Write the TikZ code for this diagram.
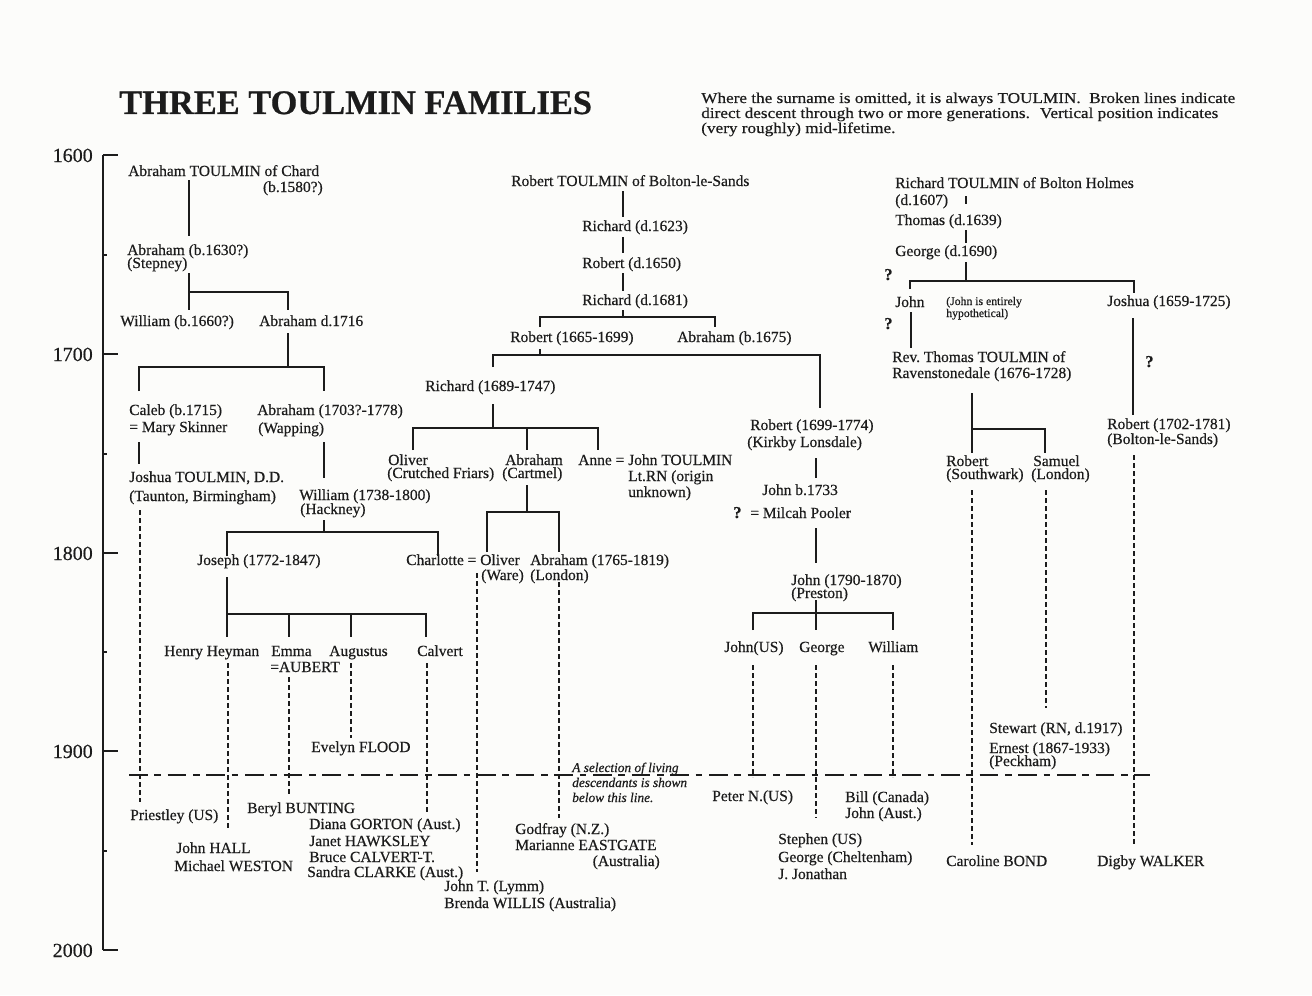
\documentclass[tikz,border=0pt]{standalone}
\usepackage{fontspec}
\setmainfont{Liberation Serif}[FakeBold=0.5]
\newfontfamily\notefont{Liberation Serif}[FakeStretch=1.14, FakeBold=0.5]
\definecolor{ink}{RGB}{28,28,28}
\definecolor{paper}{RGB}{252,252,250}
\begin{document}
\begin{tikzpicture}[x=0.75pt,y=-0.75pt,
  nm/.style={anchor=base west, inner sep=0pt, text=ink, font=\fontsize{11.6}{12}\selectfont},
  nmr/.style={nm, anchor=base east},
  qm/.style={anchor=base west, inner sep=0pt, text=ink, font=\fontsize{12.5}{12}\selectfont\bfseries},
  yr/.style={anchor=base east, inner sep=0pt, text=ink, font=\fontsize{15}{15}\selectfont},
  nt/.style={anchor=base west, inner sep=0pt, text=ink, font=\notefont\fontsize{11.3}{11}\selectfont},
  tl/.style={draw=ink, line width=1.1pt},
  dl/.style={draw=ink, line width=0.9pt, dash pattern=on 3.5pt off 2.5pt},
  hl/.style={draw=ink, line width=0.9pt, dash pattern=on 14pt off 5pt on 5pt off 5pt},
  ax/.style={draw=ink, line width=1.3pt}]
\fill[paper] (0,0) rectangle (1312,995);
\useasboundingbox (0,0) rectangle (1312,995);

% ---------- header ----------
\node[anchor=base west, inner sep=0pt, text=ink, font=\fontsize{25.8}{26}\selectfont\bfseries] (title) at (119,114) {THREE TOULMIN FAMILIES};
\node[nt] (note1) at (701,103) {Where the surname is omitted, it is always TOULMIN.~ Broken lines indicate};
\node[nt] (note2) at (701,118) {direct descent through two or more generations.~ Vertical position indicates};
\node[nt] (note3) at (701,133) {(very roughly) mid-lifetime.};

% ---------- axis ----------
\coordinate (ax0) at (103,155); \coordinate (ax4) at (103,950);
\draw[ax] (ax0) -- (ax4);
\foreach \yy/\lab in {155/1600,354/1700,553/1800,751/1900,950/2000}{
  \draw[ax] (103,\yy) -- (118,\yy);
  \node[yr] (y\lab) at (93,\yy+7) {\lab};
}
\foreach \yy in {255,454,652,851}{ \draw[ax] (103,\yy) -- (107,\yy); }

% ---------- family 1 : Chard ----------
\node[nm] (ac1) at (128,176) {Abraham TOULMIN of Chard};
\node[nmr] (ac2) at (323,192) {(b.1580?)};
\node[nm] (as1) at (127,255) {Abraham (b.1630?)};
\node[nm] (as2) at (127,268) {(Stepney)};
\node[nm] (wm) at (120,326) {William (b.1660?)};
\node[nm] (ad) at (259,326) {Abraham d.1716};
\node[nm] (cb1) at (129,415) {Caleb (b.1715)};
\node[nm] (cb2) at (129,432) {= Mary Skinner};
\node[nm] (aw1) at (257,415) {Abraham (1703?-1778)};
\node[nm] (aw2) at (258,433) {(Wapping)};
\node[nm] (jt1) at (129,482) {Joshua TOULMIN, D.D.};
\node[nm] (jt2) at (129,501) {(Taunton, Birmingham)};
\node[nm] (wh1) at (299,500) {William (1738-1800)};
\node[nm] (wh2) at (300,514) {(Hackney)};
\node[nm] (jo) at (197,565) {Joseph (1772-1847)};
\node[nm] (hh) at (164,656) {Henry Heyman};
\node[nm] (em1) at (271,656) {Emma};
\node[nm] (em2) at (270,672) {=AUBERT};
\node[nm] (au) at (329,656) {Augustus};
\node[nm] (ca) at (417,656) {Calvert};
\node[nm] (ef) at (311,752) {Evelyn FLOOD};
\node[nm] (pr) at (130,820) {Priestley (US)};
\node[nm] (bb) at (247,813) {Beryl BUNTING};
\node[nm] (jh) at (176,853) {John HALL};
\node[nm] (mw) at (174,871) {Michael WESTON};
\node[nm] (dg) at (309,829) {Diana GORTON (Aust.)};
\node[nm] (jhk) at (309,846) {Janet HAWKSLEY};
\node[nm] (bc) at (309,862) {Bruce CALVERT-T.};
\node[nm] (sc) at (307,877) {Sandra CLARKE (Aust.)};

\coordinate (a1) at (189,180); \coordinate (a2) at (189,236);
\draw[tl] (a1) -- (a2);
\coordinate (b1) at (189,273); \coordinate (b2) at (189,292); \coordinate (b3) at (189,310); \coordinate (b4) at (288,310);
\draw[tl] (b1) -- (b3); \draw[tl] (b2) -| (b4);
\coordinate (c1) at (288,333); \coordinate (c2) at (288,367); \coordinate (c3) at (139,391); \coordinate (c4) at (324,391);
\draw[tl] (c1) -- (c2); \draw[tl] (c3) |- (c2) -| (c4);
\coordinate (d1) at (139,442); \coordinate (d2) at (139,464);
\draw[tl] (d1) -- (d2);
\coordinate (e1) at (324,442); \coordinate (e2) at (324,478);
\draw[tl] (e1) -- (e2);
\coordinate (f1) at (324,520); \coordinate (f2) at (324,532); \coordinate (f3) at (227,556); \coordinate (f4) at (438,556);
\draw[tl] (f1) -- (f2); \draw[tl] (f3) |- (f2) -| (f4);
\coordinate (g1) at (227,577); \coordinate (g2) at (227,614); \coordinate (g3) at (227,637);
\coordinate (g4) at (426,637); \coordinate (g5) at (289,637); \coordinate (g6) at (351,637);
\draw[tl] (g1) -- (g3); \draw[tl] (g2) -| (g4);
\draw[tl] (g5 |- g2) -- (g5); \draw[tl] (g6 |- g2) -- (g6);
\coordinate (h1) at (140,510); \coordinate (h2) at (140,802);
\draw[dl] (h1) -- (h2);
\coordinate (i1) at (228,663); \coordinate (i2) at (228,830);
\draw[dl] (i1) -- (i2);
\coordinate (j1) at (289,677); \coordinate (j2) at (289,795);
\draw[dl] (j1) -- (j2);
\coordinate (k1) at (351,663); \coordinate (k2) at (351,738);
\draw[dl] (k1) -- (k2);
\coordinate (l1) at (427,663); \coordinate (l2) at (427,813);
\draw[dl] (l1) -- (l2);

% ---------- family 2 : Bolton-le-Sands ----------
\node[nm] (rb) at (511,186) {Robert TOULMIN of Bolton-le-Sands};
\node[nm] (r1) at (582,231) {Richard (d.1623)};
\node[nm] (r2) at (582,268) {Robert (d.1650)};
\node[nm] (r3) at (582,305) {Richard (d.1681)};
\node[nm] (rob) at (510,342) {Robert (1665-1699)};
\node[nm] (abr) at (677,342) {Abraham (b.1675)};
\node[nm] (ric) at (425,391) {Richard (1689-1747)};
\node[nm] (ol1) at (388,465) {Oliver};
\node[nm] (ol2) at (387,478) {(Crutched Friars)};
\node[nm] (ab1) at (505,465) {Abraham};
\node[nm] (ab2) at (502,478) {(Cartmel)};
\node[nm] (an1) at (578,465) {Anne = John TOULMIN};
\node[nm] (an2) at (628,481) {Lt.RN (origin};
\node[nm] (an3) at (628,497) {unknown)};
\node[nm] (ch) at (406,565) {Charlotte = Oliver};
\node[nm] (ow) at (481,580) {(Ware)};
\node[nm] (al1) at (530,565) {Abraham (1765-1819)};
\node[nm] (al2) at (530,580) {(London)};
\node[anchor=base west, inner sep=0pt, text=ink, font=\fontsize{10}{10}\selectfont\itshape] (sel1) at (572,772) {A selection of living};
\node[anchor=base west, inner sep=0pt, text=ink, font=\fontsize{10}{10}\selectfont\itshape] (sel2) at (572,787) {descendants is shown};
\node[anchor=base west, inner sep=0pt, text=ink, font=\fontsize{10}{10}\selectfont\itshape] (sel3) at (572,802) {below this line.};
\node[nm] (gf) at (515,834) {Godfray (N.Z.)};
\node[nm] (me) at (515,850) {Marianne EASTGATE};
\node[nmr] (aus) at (660,866) {(Australia)};
\node[nm] (jl) at (444,891) {John T. (Lymm)};
\node[nm] (bw) at (444,908) {Brenda WILLIS (Australia)};

\coordinate (m1) at (623,191); \coordinate (m2) at (623,217);
\draw[tl] (m1) -- (m2);
\coordinate (m3) at (623,237); \coordinate (m4) at (623,253);
\draw[tl] (m3) -- (m4);
\coordinate (m5) at (623,273); \coordinate (m6) at (623,291);
\draw[tl] (m5) -- (m6);
\coordinate (n1) at (623,310); \coordinate (n2) at (623,317); \coordinate (n3) at (540,327); \coordinate (n4) at (715,327);
\draw[tl] (n1) -- (n2); \draw[tl] (n3) |- (n2) -| (n4);
\coordinate (o1) at (540,349); \coordinate (o2) at (540,355); \coordinate (o3) at (493,367); \coordinate (o4) at (820,408);
\draw[tl] (o1) -- (o2); \draw[tl] (o3) |- (o2) -| (o4);
\coordinate (p1) at (493,404); \coordinate (p2) at (493,428); \coordinate (p3) at (413,450); \coordinate (p4) at (598,450); \coordinate (p5) at (527,450);
\draw[tl] (p1) -- (p2); \draw[tl] (p3) |- (p2) -| (p4); \draw[tl] (p5 |- p2) -- (p5);
\coordinate (q1) at (527,485); \coordinate (q2) at (527,512); \coordinate (q3) at (487,552); \coordinate (q4) at (559,552);
\draw[tl] (q1) -- (q2); \draw[tl] (q3) |- (q2) -| (q4);
\coordinate (s1) at (477,573); \coordinate (s2) at (477,872);
\draw[dl] (s1) -- (s2);
\coordinate (t1) at (559,582); \coordinate (t2) at (559,818);
\draw[dl] (t1) -- (t2);

% ---------- Kirkby Lonsdale branch ----------
\node[nm] (rk1) at (750,430) {Robert (1699-1774)};
\node[nm] (rk2) at (747,447) {(Kirkby Lonsdale)};
\node[nm] (jb) at (762,495) {John b.1733};
\node[qm] (qa) at (733,518) {?};
\node[nm] (mp) at (750,518) {= Milcah Pooler};
\node[nm] (jp1) at (791,585) {John (1790-1870)};
\node[nm] (jp2) at (791,598) {(Preston)};
\node[nm] (jus) at (724,652) {John(US)};
\node[nm] (geo) at (799,652) {George};
\node[nm] (wil) at (868,652) {William};
\node[nm] (pn) at (712,801) {Peter N.(US)};
\node[nm] (bil) at (845,802) {Bill (Canada)};
\node[nm] (jau) at (845,818) {John (Aust.)};
\node[nm] (st) at (778,844) {Stephen (US)};
\node[nm] (gc) at (778,862) {George (Cheltenham)};
\node[nm] (jj) at (778,879) {J. Jonathan};

\coordinate (u1) at (816,458); \coordinate (u2) at (816,478);
\draw[tl] (u1) -- (u2);
\coordinate (u3) at (816,528); \coordinate (u4) at (816,563);
\draw[tl] (u3) -- (u4);
\coordinate (v1) at (816,600); \coordinate (v2) at (816,613); \coordinate (v3) at (816,630); \coordinate (v4) at (753,630); \coordinate (v5) at (893,630);
\draw[tl] (v1) -- (v3); \draw[tl] (v4) |- (v2) -| (v5);
\coordinate (w1) at (753,665); \coordinate (w2) at (753,777);
\draw[dl] (w1) -- (w2);
\coordinate (w3) at (816,665); \coordinate (w4) at (816,818);
\draw[dl] (w3) -- (w4);
\coordinate (w5) at (893,665); \coordinate (w6) at (893,777);
\draw[dl] (w5) -- (w6);

% ---------- family 3 : Bolton Holmes ----------
\node[nm] (rh1) at (895,188) {Richard TOULMIN of Bolton Holmes};
\node[nm] (rh2) at (895,205) {(d.1607)};
\node[nm] (th) at (895,225) {Thomas (d.1639)};
\node[nm] (ge) at (895,256) {George (d.1690)};
\node[qm] (qb) at (884,280) {?};
\node[nm] (jn) at (895,307) {John};
\node[anchor=base west, inner sep=0pt, text=ink, font=\fontsize{8.8}{9}\selectfont] (hyp1) at (946,305) {(John is entirely};
\node[anchor=base west, inner sep=0pt, text=ink, font=\fontsize{8.8}{9}\selectfont] (hyp2) at (946,317) {hypothetical)};
\node[nm] (js) at (1107,306) {Joshua (1659-1725)};
\node[qm] (qc) at (884,329) {?};
\node[nm] (rt1) at (892,362) {Rev.\ Thomas TOULMIN of};
\node[nm] (rt2) at (892,378) {Ravenstonedale (1676-1728)};
\node[qm] (qd) at (1145,367) {?};
\node[nm] (rbs1) at (1107,429) {Robert (1702-1781)};
\node[nm] (rbs2) at (1107,444) {(Bolton-le-Sands)};
\node[nm] (rs1) at (946,466) {Robert};
\node[nm] (rs2) at (946,479) {(Southwark)};
\node[nm] (sa1) at (1033,466) {Samuel};
\node[nm] (sa2) at (1031,479) {(London)};
\node[nm] (sw) at (989,733) {Stewart (RN, d.1917)};
\node[nm] (er1) at (989,753) {Ernest (1867-1933)};
\node[nm] (er2) at (989,766) {(Peckham)};
\node[nm] (cbd) at (946,866) {Caroline BOND};
\node[nm] (dw) at (1097,866) {Digby WALKER};

\coordinate (x1) at (966,196); \coordinate (x2) at (966,204);
\draw[tl] (x1) -- (x2);
\coordinate (x3) at (966,230); \coordinate (x4) at (966,243);
\draw[tl] (x3) -- (x4);
\coordinate (y1) at (966,262); \coordinate (y2) at (966,281); \coordinate (y3) at (910,289); \coordinate (y4) at (1134,293);
\draw[tl] (y1) -- (y2); \draw[tl] (y3) |- (y2) -| (y4);
\coordinate (z1) at (911,312); \coordinate (z2) at (911,348);
\draw[tl] (z1) -- (z2);
\coordinate (z3) at (1133,318); \coordinate (z4) at (1133,415);
\draw[tl] (z3) -- (z4);
\coordinate (zz1) at (972,393); \coordinate (zz2) at (972,429); \coordinate (zz3) at (972,453); \coordinate (zz4) at (1045,453);
\draw[tl] (zz1) -- (zz3); \draw[tl] (zz2) -| (zz4);
\coordinate (da1) at (972,490); \coordinate (da2) at (972,845);
\draw[dl] (da1) -- (da2);
\coordinate (db1) at (1046,490); \coordinate (db2) at (1046,708);
\draw[dl] (db1) -- (db2);
\coordinate (dc1) at (1134,455); \coordinate (dc2) at (1134,845);
\draw[dl] (dc1) -- (dc2);

% ---------- living-descendants line ----------
\coordinate (hl1) at (129,775); \coordinate (hl2) at (1150,775);
\draw[hl] (hl1) -- (hl2);
\end{tikzpicture}
\end{document}
